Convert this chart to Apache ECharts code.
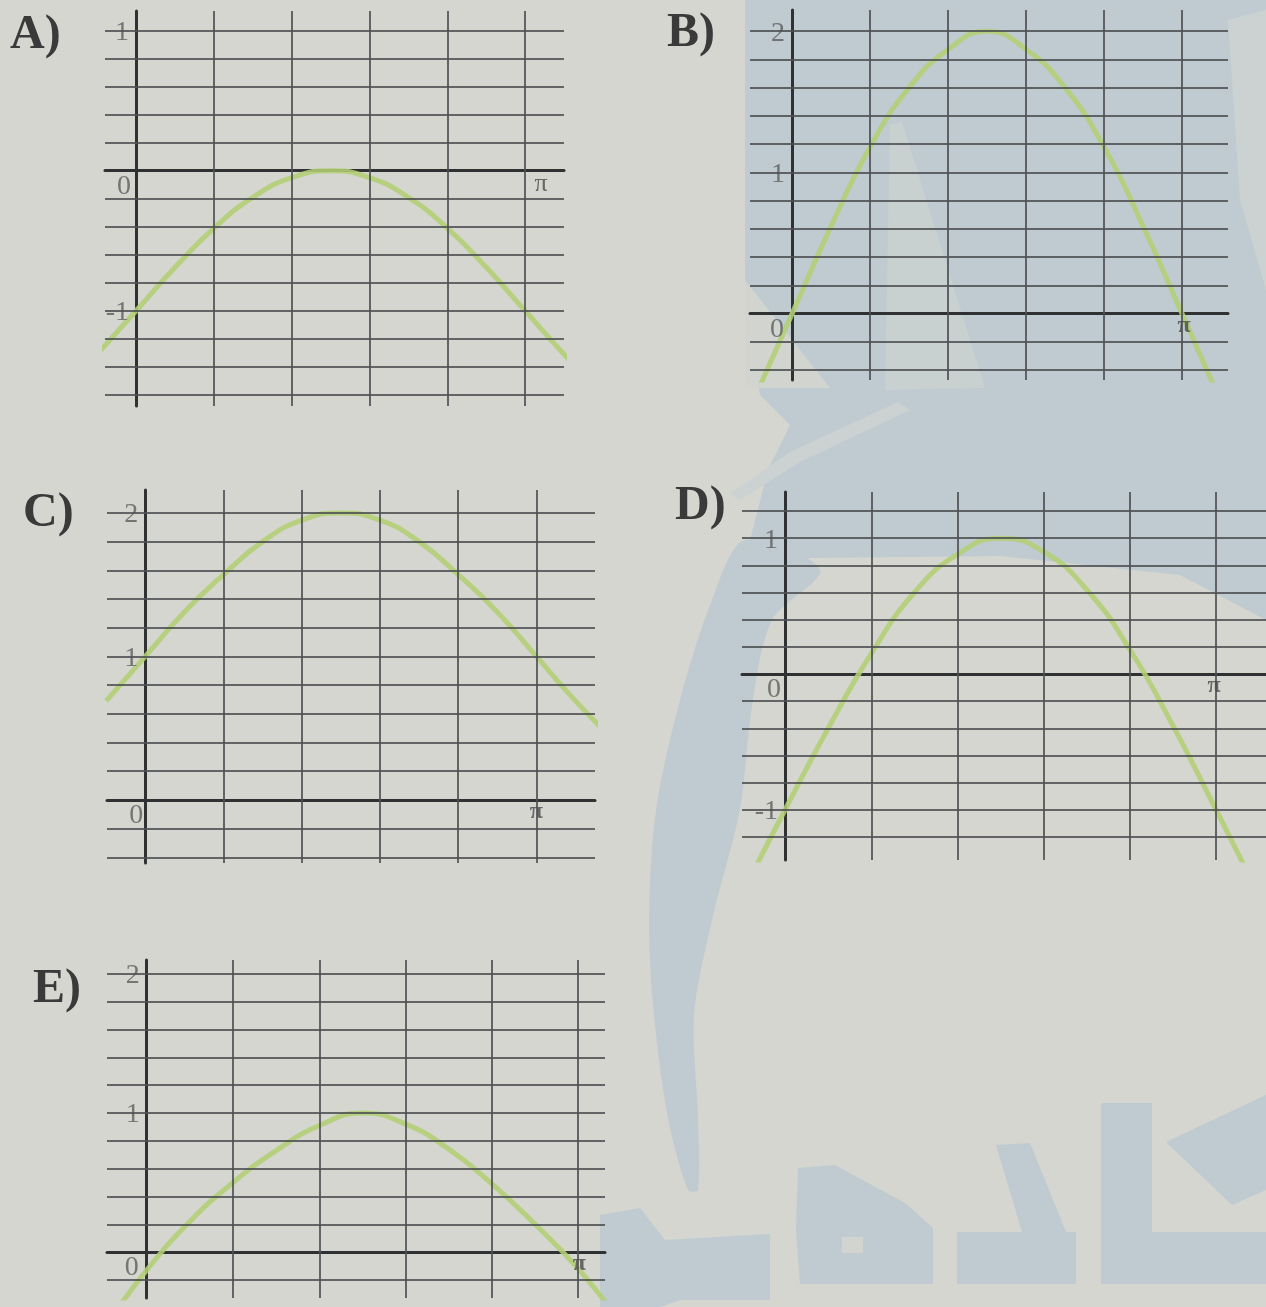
<!DOCTYPE html>
<html>
<head>
<meta charset="utf-8">
<script src="https://cdn.jsdelivr.net/npm/echarts@6/dist/echarts.min.js"></script>
<style>
  html, body { margin: 0; padding: 0; background: #d4d6cf; }
  #chart { width: 1266px; height: 1307px; }
</style>
</head>
<body>
<div id="chart"></div>
<script>
// x positions in grid cells (1 cell = pi/5)
let xs = [-0.5, 0, 0.5, 1, 1.5, 2, 2.5, 3, 3.5, 4, 4.5, 5, 5.5, 6];

// curve values
let valsA = [-1.31, -1, -0.69, -0.41, -0.19, -0.05, 0, -0.05, -0.19, -0.41, -0.69, -1, -1.31, -1.59];
let valsB = [-0.62, 0, 0.62, 1.18, 1.6, 1.87, 2, 1.87, 1.6, 1.18, 0.62, 0, -0.62, -1.18];
let valsC = [0.69, 1, 1.31, 1.57, 1.8, 1.95, 2, 1.95, 1.8, 1.57, 1.31, 1, 0.69, 0.41];
let valsD = [-1.62, -1, -0.4, 0.15, 0.6, 0.88, 1, 0.9, 0.62, 0.18, -0.38, -1, -1.62, -2.18];
let valsE = [-0.55, -0.13, 0.22, 0.5, 0.73, 0.91, 1, 0.92, 0.74, 0.49, 0.2, -0.12, -0.5, -0.85];

// horizontal grid lines (0 is the axis itself)
let hLinesA = [1, 0.8, 0.6, 0.4, 0.2, -0.2, -0.4, -0.6, -0.8, -1, -1.2, -1.4, -1.6];
let hLinesB = [2, 1.8, 1.6, 1.4, 1.2, 1, 0.8, 0.6, 0.4, 0.2, -0.2, -0.4];
let hLinesC = [2, 1.8, 1.6, 1.4, 1.2, 1, 0.8, 0.6, 0.4, 0.2, -0.2, -0.4];
let hLinesD = [1.2, 1, 0.8, 0.6, 0.4, 0.2, -0.2, -0.4, -0.6, -0.8, -1, -1.2];
let hLinesE = [2, 1.8, 1.6, 1.4, 1.2, 1, 0.8, 0.6, 0.4, 0.2, -0.2];
let vLines = [1, 2, 3, 4, 5];

// tick labels
let yLabelsA = [1, -1];
let yLabelsB = [2, 1];
let yLabelsC = [2, 1];
let yLabelsD = [1, -1];
let yLabelsE = [2, 1];
let xTickVals = [0, 5];
let xTickText = ['0', 'π'];
let panelNames = ['A)', 'B)', 'C)', 'D)', 'E)'];

let panels = [
  {vals: valsA, h: hLinesA, yl: yLabelsA, left: 105, top: 11, width: 459, height: 395, xMin: -0.4, xMax: 5.5, yMin: -1.68, yMax: 1.14, zs: -2, ps: 16, tl: 10, tt: 12},
  {vals: valsB, h: hLinesB, yl: yLabelsB, left: 750, top: 10, width: 478, height: 370, xMin: -0.54, xMax: 5.59, yMin: -0.47, yMax: 2.15, zs: -5, ps: 2, tl: 667, tt: 10},
  {vals: valsC, h: hLinesC, yl: yLabelsC, left: 107, top: 490, width: 488, height: 373, xMin: -0.49, xMax: 5.75, yMin: -0.44, yMax: 2.16, zs: 1, ps: 0, tl: 23, tt: 490},
  {vals: valsD, h: hLinesD, yl: yLabelsD, left: 742, top: 492, width: 524, height: 368, xMin: -0.5, xMax: 5.58, yMin: -1.37, yMax: 1.34, zs: -1, ps: -2, tl: 675, tt: 483},
  {vals: valsE, h: hLinesE, yl: yLabelsE, left: 107, top: 960, width: 498, height: 338, xMin: -0.46, xMax: 5.31, yMin: -0.33, yMax: 2.1, zs: -5, ps: 1, tl: 33, tt: 966}
];

let gridColor = '#4d5052';
let axisColor = '#2f3133';
let labelFont = 'Liberation Serif';

let grid = [], xAxis = [], yAxis = [], series = [], title = [];

panels.forEach((p, i) => {
  grid.push({left: p.left, top: p.top, width: p.width, height: p.height, containLabel: false});
  title.push({
    text: panelNames[i], left: p.tl, top: p.tt, padding: 0,
    textStyle: {fontFamily: labelFont, fontWeight: 'bold', fontSize: 48, color: '#3a3a3a'}
  });
  xAxis.push({
    type: 'value', gridIndex: i, min: p.xMin, max: p.xMax,
    splitLine: {show: false}, axisTick: {show: false}, axisLabel: {show: false},
    axisLine: {onZero: true, lineStyle: {color: axisColor, width: 3}}
  });
  yAxis.push({
    type: 'value', gridIndex: i, min: p.yMin, max: p.yMax,
    splitLine: {show: false}, axisTick: {show: false}, axisLabel: {show: false},
    axisLine: {onZero: true, lineStyle: {color: axisColor, width: 3}}
  });
  // grid lines
  series.push({
    type: 'line', xAxisIndex: i, yAxisIndex: i, data: [], silent: true, z: 1,
    markLine: {
      silent: true, symbol: 'none', animation: false,
      label: {show: false},
      lineStyle: {color: gridColor, width: 2, type: 'solid', opacity: 0.85},
      emphasis: {disabled: true},
      data: p.h.map(v => ({yAxis: v})).concat(vLines.map(v => ({xAxis: v})))
    }
  });
  // curve
  series.push({
    type: 'line', xAxisIndex: i, yAxisIndex: i, z: 3,
    data: xs.map((x, k) => [x, p.vals[k]]),
    smooth: true, showSymbol: false, clip: true,
    lineStyle: {color: '#b3cf74', width: 5, opacity: 0.88}
  });
  // tick labels placed on the axes through the panel's scales
  let txt = {fontFamily: labelFont, fontSize: 28, color: '#5c5e5c'};
  let tickData = p.yl.map(v => ({
    value: [0, v], name: String(v),
    label: Object.assign({position: 'left', distance: 7, offset: [0, 2]}, txt)
  }));
  tickData.push({
    value: [xTickVals[0], 0], name: xTickText[0],
    label: Object.assign({position: 'left', distance: 3, offset: [p.zs, 16]}, txt)
  });
  tickData.push({
    value: [xTickVals[1], 0], name: xTickText[1],
    label: Object.assign({position: 'bottom', distance: 0, offset: [p.ps, 0]}, txt,
      {color: '#4a4a4a', fontWeight: i === 0 ? 'normal' : 'bold', fontSize: i === 0 ? 26 : 24})
  });
  series.push({
    type: 'scatter', xAxisIndex: i, yAxisIndex: i, z: 4, silent: true,
    symbolSize: 0, clip: false,
    label: {show: true, formatter: d => d.name},
    data: tickData
  });
});

// light blue watermark shapes in the background
let wm = '#bfcbd1';
let light = '#d2d5cf';
let shapes = [
  [[745,0],[1266,0],[1266,620],[1180,575],[1000,556],[810,558],[745,560],[768,470],[790,425],[760,395],[745,300]],
  [[745,540],[712,600],[680,700],[656,810],[649,920],[654,1015],[668,1118],[688,1190],[698,1190],[698,1118],[694,1015],[712,920],[740,809],[752,706],[772,620],[820,570]],
  [[600,1215],[640,1208],[665,1240],[770,1234],[770,1300],[680,1300],[660,1307],[600,1307]],
  [[798,1168],[835,1165],[905,1203],[933,1228],[933,1284],[800,1284],[796,1230]],
  [[996,1145],[1030,1143],[1066,1232],[1076,1232],[1076,1284],[957,1284],[957,1232],[1022,1232]],
  [[1101,1103],[1152,1103],[1152,1232],[1266,1232],[1266,1284],[1101,1284]],
  [[1166,1142],[1266,1095],[1266,1190],[1232,1205]]
];
let holes = [
  {pts: [[890,125],[902,122],[985,388],[885,390]], fill: '#c9d0d0'},
  {pts: [[745,280],[830,388],[745,388]], fill: light},
  {pts: [[1228,20],[1266,10],[1266,290],[1240,200]], fill: '#ccd2d1'},
  {pts: [[898,402],[910,410],[800,462],[740,500],[730,494],[790,452]], fill: '#ccd2d1'},
  {pts: [[842,1237],[863,1237],[863,1253],[842,1253]], fill: light}
];
let graphic = shapes.map((pts, k) => ({
  type: 'polygon', z: -10, silent: true,
  shape: {points: pts, smooth: k === 1 ? 0.3 : 0},
  style: {fill: wm}
})).concat(holes.map(h => ({
  type: 'polygon', z: -9, silent: true,
  shape: {points: h.pts},
  style: {fill: h.fill}
})));

let chart = echarts.init(document.getElementById('chart'), null, {renderer: 'canvas'});
chart.setOption({
  animation: false,
  backgroundColor: '#d4d6cf',
  title: title,
  graphic: graphic,
  grid: grid,
  xAxis: xAxis,
  yAxis: yAxis,
  series: series
});
</script>
</body>
</html>
